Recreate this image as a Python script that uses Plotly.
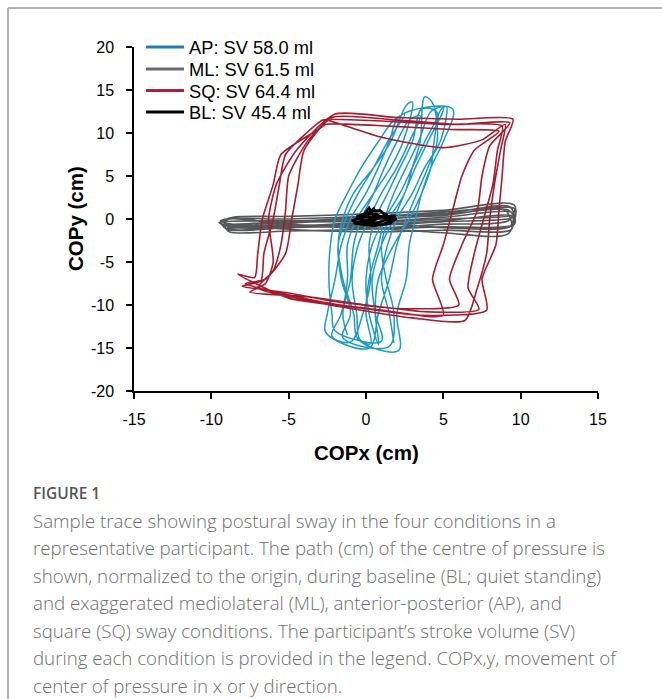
import plotly.graph_objects as go

# ---------------- data (cm) ----------------
legend_labels = ["AP: SV 58.0 ml", "ML: SV 61.5 ml", "SQ: SV 64.4 ml", "BL: SV 45.4 ml"]
colors = {"AP": "#1c9bc9", "ML": "#555759", "SQ": "#a61b30", "BL": "#000000"}
legend_colors = ["#1f7fb3", "#6b6b6b", "#b0203a", "#000000"]

x_ticks = [-15, -10, -5, 0, 5, 10, 15]
y_ticks = [-20, -15, -10, -5, 0, 5, 10, 15, 20]

# AP: anterior-posterior sway strokes
ap_x = [
    -1.2, -1.5, -1.0, -0.8, -0.3, 0.5, 1.2, 2.0, 2.8,
    3.5, 2.8, 2.0, 1.0, 0.2, -0.5, -0.9, -0.6, -0.4,
    0.3, 0.0, 0.2, 0.8, 1.2, 1.8, 2.6, 3.4, 4.2,
    5.0, 4.0, 3.2, 2.5, 1.8, 1.0, 0.4, 0.6, 1.0,
    -2.0, -2.2, -2.4, -2.3, -2.0, -1.2, -0.3, 0.8, 1.8,
    2.5, 1.4, 0.5, -0.5, -1.3, -1.8, -1.6, -1.0, -1.5,
    1.5, 1.8, 1.3, 1.0, 1.5, 2.5, 3.0, 3.5, 3.8,
    4.3, 4.6, 4.0, 3.3, 2.6, 2.0, 1.5, 0.8, 0.2,
    -2.6, -2.5, -2.0, -1.6, -1.0, 0.0, 0.8, 1.5, 2.2,
    5.6, 5.0, 4.2, 3.6, 3.2, 2.8, 2.6, 2.0, 2.1,
    -0.5, -0.8, -1.5, -1.8, -1.5, -0.8, 0.5, 1.6, 2.6,
    3.0, 2.4, 1.6, 0.5, -0.6, -1.2, -1.2, -1.6, -2.2,
    -1.0, -0.2, 0.3, 0.2, 0.6, 1.4, 2.2, 3.0, 3.6,
    4.6, 3.8, 3.0, 2.2, 1.2, 0.4, 0.0, 0.2, 0.8,
    0.8, 0.6, 0.8, 1.8, 2.8, 3.6, 4.2, 4.4, 4.8,
    5.2, 4.8, 3.8, 3.0, 2.0, 1.4, 1.0, 1.5, 1.8,
]
ap_y = [
    -13.5, -11, -7, -3, 0, 3, 6, 9, 11.5,
    12.0, 9, 6, 3, 0, -3, -7, -11, -14.0,
    -14.5, -11, -7, -3, 0, 3, 6, 9, 12.5,
    13.0, 9, 6, 3, 0, -3, -7, -11, -14.2,
    -13.0, -11, -7, -3, 0, 3, 6, 9, 11.5,
    12.2, 9, 6, 3, 0, -3, -7, -11, -13.8,
    -14.8, -11, -7, -3, 0, 3, 6, 9, 14.2,
    13.5, 9, 6, 3, 0, -3, -7, -11, -15.0,
    -13.2, -11, -7, -3, 0, 3, 6, 9, 12.0,
    12.8, 9, 6, 3, 0, -3, -7, -11, -15.3,
    -14.0, -11, -7, -3, 0, 3, 6, 9, 13.2,
    13.6, 9, 6, 3, 0, -3, -7, -11, -13.6,
    -14.3, -11, -7, -3, 0, 3, 6, 9, 12.8,
    12.4, 9, 6, 3, 0, -3, -7, -11, -14.6,
    -14.0, -11, -7, -3, 0, 3, 6, 9, 12.6,
    13.1, 9, 6, 3, 0, -3, -7, -11, -14.4,
]

# ML: mediolateral sway strokes
ml_x = [
    -9.2, -5, 0, 5, 9.4,
    9.5, 5, 0, -5, -9.0,
    -9.4, -5, 0, 5, 9.3,
    9.6, 5, 0, -5, -8.8,
    -9.1, -5, 0, 5, 9.0,
    9.4, 5, 0, -5, -9.3,
    -8.6, -5, 0, 5, 9.6,
    9.2, 5, 0, -5, -9.0,
    -9.5, -5, 0, 5, 9.1,
    9.5, 5, 0, -5, -8.9,
    -9.0, -5, 0, 5, 9.5,
    9.3, 5, 0, -5, -9.4,
    -8.8, -5, 0, 5, 9.2,
    9.6, 5, 0, -5, -9.2,
]
ml_y = [
    -0.6, -0.8, -0.4, 0.2, 0.8,
    0.2, -0.3, -0.8, -1.0, -1.2,
    -0.2, 0.0, 0.3, 0.6, 1.4,
    -0.6, -0.9, -1.2, -1.4, -1.5,
    -0.9, -0.5, 0.0, 0.4, 1.0,
    -1.2, -1.3, -1.5, -1.2, -0.3,
    0.2, 0.3, 0.6, 1.0, 1.6,
    -1.7, -1.6, -1.0, -0.7, -0.8,
    -0.4, -0.2, -0.1, 0.5, 1.1,
    0.5, 0.0, -0.5, -0.9, -1.0,
    -1.1, -1.0, -0.7, -0.2, 0.3,
    -0.9, -1.0, -0.3, -0.4, -0.5,
    0.0, -0.6, -1.1, -0.6, -0.2,
    1.2, 0.8, 0.2, -0.3, -0.7,
]

# SQ: square sway loops
sq_x = [
    -2.3, 1.0, 5.0, 8.8, 8.5, 8.2, 7.6, 7.0, 6.6, 7.3, 4.0, 0.0, -4.0, -7.5, -6.5, -6.0, -6.3, -5.8, -4.5,
    -2.0, 2.0, 6.0, 9.5, 9.0, 8.8, 8.6, 8.4, 7.5, 7.8, 3.5, -1.0, -5.0, -8.3, -7.2, -7.0, -6.7, -6.0, -5.5, -3.0,
    -2.6, 1.5, 5.5, 8.6, 7.0, 6.2, 5.6, 5.0, 4.3, 5.0, 1.0, -3.0, -7.8, -6.5, -5.2, -4.8, -4.4, -4.0,
    -2.2, 2.0, 6.0, 9.3, 8.0, 7.5, 7.2, 6.2, 5.4, 6.0, 2.0, -2.0, -5.0, -8.0, -6.8, -6.6, -6.0, -5.6, -5.2, -2.8,
    -2.5, 0.8, 5.0, 7.5, 9.0, 8.7, 8.3, 8.0, 7.8, 7.2, 6.4, 3.0, -1.0, -4.5, -7.0, -6.0, -5.5, -5.2, -5.0, -3.8, -2.2,
]
sq_y = [
    11.6, 11.4, 11.0, 10.8, 8.0, 4.0, 0.0, -4.0, -8.0, -10.5, -10.8, -10.0, -9.0, -8.5, -7.5, -5.0, 0.0, 4.0, 8.0,
    12.2, 11.8, 11.6, 11.6, 9.0, 5.0, 1.0, -3.0, -7.0, -10.6, -11.2, -10.2, -9.2, -6.4, -6.8, -4.0, 0.0, 4.0, 7.5, 10.5,
    11.0, 10.8, 10.4, 10.2, 8.0, 5.0, 1.0, -3.0, -7.0, -11.2, -10.6, -9.6, -7.5, -7.0, -4.0, 0.0, 4.0, 8.0,
    11.8, 11.5, 11.0, 11.2, 8.5, 5.0, 1.0, -3.0, -7.0, -10.0, -10.4, -9.6, -8.6, -7.8, -7.2, -4.0, 0.0, 4.0, 7.5, 11.5,
    11.5, 9.6, 8.3, 9.2, 11.0, 8.0, 4.0, 0.0, -4.0, -8.0, -11.8, -11.5, -10.4, -9.2, -8.0, -6.0, -3.0, 1.0, 5.0, 9.0, 12.0,
]

# BL: baseline quiet standing
bl_x = [-0.5, 0.3, 1.2, 1.8, 0.8, -0.2, -0.9, 0.0, 0.5, 0.7, 1.5, 2.0, 1.0, 0.0, -0.6,
        0.4, 0.9, 1.3, 0.2, -0.8, 0.5, 1.6, 1.9, 0.6, -0.3, 0.2, 0.6, 1.4, 0.1, -0.4]
bl_y = [0.0, 0.6, 0.1, 0.3, -0.4, -0.6, -0.2, 0.4, 1.2, 0.5, -0.2, 0.0, -0.7, -0.3, 0.3,
        0.9, 1.0, 0.4, -0.1, -0.5, -0.8, -0.5, 0.4, 0.2, 0.2, 1.3, 0.0, 0.6, -0.5, -0.1]

caption_title = "FIGURE 1"
caption_lines = [
    "Sample trace showing postural sway in the four conditions in a",
    "representative participant. The path (cm) of the centre of pressure is",
    "shown, normalized to the origin, during baseline (BL; quiet standing)",
    "and exaggerated mediolateral (ML), anterior-posterior (AP), and",
    "square (SQ) sway conditions. The participant\u2019s stroke volume (SV)",
    "during each condition is provided in the legend. COPx,y, movement of",
    "center of pressure in x or y direction.",
]

# ---------------- layout geometry (pixels) ----------------
W, H = 662, 699
PL, PR, PT, PB = 134, 598, 47, 391


def px2paper_x(px):
    return (px - PL) / (PR - PL)


def px2paper_y(py):
    return (PB - py) / (PB - PT)


fig = go.Figure()

fig.add_trace(go.Scatter(x=ml_x, y=ml_y, mode="lines", showlegend=False,
                         line=dict(color=colors["ML"], width=1.6, shape="spline", smoothing=0.8)))
fig.add_trace(go.Scatter(x=ap_x, y=ap_y, mode="lines", showlegend=False,
                         line=dict(color=colors["AP"], width=1.5, shape="spline", smoothing=1.0)))
fig.add_trace(go.Scatter(x=sq_x, y=sq_y, mode="lines", showlegend=False,
                         line=dict(color=colors["SQ"], width=1.6, shape="spline", smoothing=0.6)))
fig.add_trace(go.Scatter(x=bl_x, y=bl_y, mode="lines", showlegend=False,
                         line=dict(color=colors["BL"], width=2.6)))

# legend entries, one small legend per entry for exact spacing
legend_names = ["legend", "legend2", "legend3", "legend4"]
legend_rows_px = [47, 69, 90.5, 112]
for lab, col, lg in zip(legend_labels, legend_colors, legend_names):
    fig.add_trace(go.Scatter(x=[None], y=[None], mode="lines", name=lab, legend=lg,
                             line=dict(color=col, width=3)))

legend_layout = {}
for lg, row in zip(legend_names, legend_rows_px):
    legend_layout[lg] = dict(x=px2paper_x(141), y=px2paper_y(row), xanchor="left", yanchor="middle",
                             bgcolor="rgba(0,0,0,0)",
                             font=dict(size=18.3, family="Liberation Sans, Arial", color="#000"),
                             itemwidth=38)

annotations = [
    dict(text="<b>COPx (cm)</b>", x=0.5, y=px2paper_y(452), xref="paper", yref="paper",
         showarrow=False, xanchor="center", yanchor="middle",
         font=dict(family="Liberation Sans, Arial", size=20.5, color="#000")),
    dict(text="<b>COPy (cm)</b>", x=px2paper_x(75), y=0.5, xref="paper", yref="paper",
         showarrow=False, xanchor="center", yanchor="middle", textangle=-90,
         font=dict(family="Liberation Sans, Arial", size=20.5, color="#000")),
    dict(text=caption_title, x=px2paper_x(31), y=px2paper_y(493), xref="paper", yref="paper",
         showarrow=False, xanchor="left", yanchor="middle",
         font=dict(family="Open Sans", size=15.5, color="#555555", weight=600)),
]
for i, line in enumerate(caption_lines):
    annotations.append(dict(text=line, x=px2paper_x(31), y=px2paper_y(520 + i * 27.5),
                            xref="paper", yref="paper", showarrow=False,
                            xanchor="left", yanchor="middle",
                            font=dict(family="Open Sans", size=18.7, color="#6e6e6e", weight=300)))

shapes = [
    dict(type="line", xref="paper", yref="paper", x0=px2paper_x(8), x1=px2paper_x(662),
         y0=px2paper_y(8), y1=px2paper_y(8), line=dict(color="#9a9a9a", width=1.5)),
    dict(type="line", xref="paper", yref="paper", x0=px2paper_x(8), x1=px2paper_x(8),
         y0=px2paper_y(8), y1=px2paper_y(699), line=dict(color="#9a9a9a", width=1.5)),
]

fig.update_layout(
    width=W, height=H,
    margin=dict(l=PL, r=W - PR, t=PT, b=H - PB, pad=0),
    paper_bgcolor="white", plot_bgcolor="white",
    font=dict(family="Liberation Sans, Arial", size=16, color="#000"),
    xaxis=dict(range=[-15, 15], tickvals=x_ticks, ticktext=[str(v) for v in x_ticks],
               showgrid=False, zeroline=False, showline=True, linecolor="#000", linewidth=1.5,
               ticks="outside", ticklen=6, tickwidth=1.5, tickcolor="#000",
               ticklabelstandoff=7, tickfont=dict(size=16)),
    yaxis=dict(range=[-20, 20], tickvals=y_ticks, ticktext=[str(v) for v in y_ticks],
               showgrid=False, zeroline=False, showline=True, linecolor="#000", linewidth=1.5,
               ticks="outside", ticklen=6, tickwidth=1.5, tickcolor="#000",
               ticklabelstandoff=9, tickfont=dict(size=16)),
    annotations=annotations,
    shapes=shapes,
    **legend_layout,
)

fig.write_html("out.html")
